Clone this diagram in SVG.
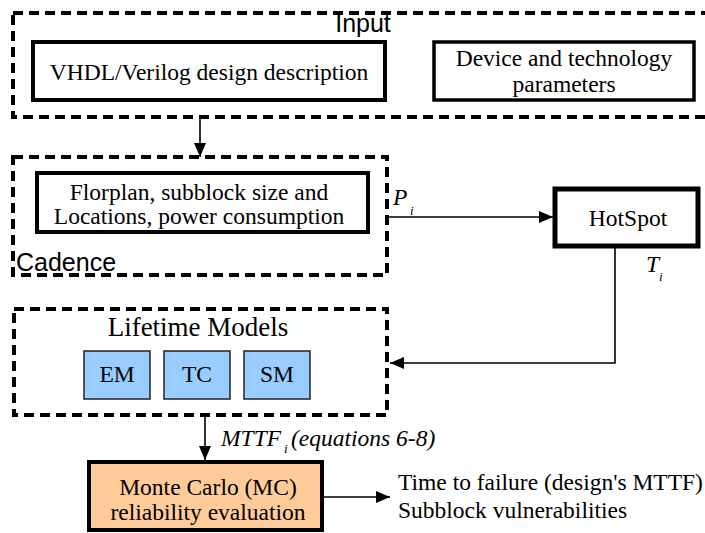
<svg xmlns="http://www.w3.org/2000/svg" width="705" height="533" viewBox="0 0 705 533">
<style>
.dash{fill:none;stroke:#000;stroke-width:4;stroke-dasharray:10 6}
.box{fill:#fff;stroke:#000;stroke-width:4}
.t{font-family:'Liberation Serif','Times New Roman',serif;font-size:23.5px;fill:#000;text-anchor:middle}
.s{font-family:'Liberation Sans',Arial,sans-serif;font-size:25px;fill:#000}
.it{font-family:'Liberation Serif','Times New Roman',serif;font-style:italic;font-size:23.5px;fill:#000}
.sub{font-size:13px}
.blue{fill:#99CCFF;stroke:#222;stroke-width:1.5}
.con{fill:none;stroke:#000;stroke-width:1.6}
</style>
<defs>
<marker id="ah" markerUnits="userSpaceOnUse" markerWidth="14" markerHeight="12" refX="14" refY="6" orient="auto">
<path d="M0,0 L14,6 L0,12 z" fill="#000"/>
</marker>
</defs>

<g id="input">
<rect class="dash" x="13" y="13" width="710" height="104"/>
<text class="s" x="363" y="32" text-anchor="middle">Input</text>
</g>
<g id="vhdl">
<rect class="box" x="33" y="42" width="352" height="58"/>
<text class="t" x="209" y="80">VHDL/Verilog design description</text>
</g>
<g id="device">
<rect class="box" x="434" y="42" width="260" height="58" style="stroke-width:3.5"/>
<text class="t" x="564" y="66">Device and technology</text>
<text class="t" x="564" y="92">parameters</text>
</g>

<g id="cadence">
<rect class="dash" x="13" y="157" width="374" height="118"/>
<text class="s" x="16" y="271">Cadence</text>
</g>
<g id="floorplan">
<rect class="box" x="37" y="173" width="331" height="59"/>
<text class="t" x="199" y="200">Florplan, subblock size and</text>
<text class="t" x="199" y="224">Locations, power consumption</text>
</g>

<g id="hotspot">
<rect class="box" x="555" y="189" width="143" height="57" style="stroke-width:5"/>
<text class="t" x="628" y="226">HotSpot</text>
</g>

<g id="lifetime">
<rect class="dash" x="14" y="309" width="373" height="106"/>
<text class="t" x="198" y="336" style="font-size:27px">Lifetime Models</text>
</g>
<g id="em">
<rect class="blue" x="84" y="351" width="66" height="48"/>
<text class="t" x="117" y="382">EM</text>
</g>
<g id="tc">
<rect class="blue" x="164" y="351" width="66" height="48"/>
<text class="t" x="197" y="382">TC</text>
</g>
<g id="sm">
<rect class="blue" x="244" y="351" width="66" height="48"/>
<text class="t" x="277" y="382">SM</text>
</g>

<g id="montecarlo">
<rect class="box" x="89" y="462" width="233" height="68" style="fill:#FFCC99"/>
<text class="t" x="208" y="495">Monte Carlo (MC)</text>
<text class="t" x="208" y="520">reliability evaluation</text>
</g>

<g id="outputs">
<text class="t" x="398" y="490" style="text-anchor:start">Time to failure (design's MTTF)</text>
<text class="t" x="398" y="518" style="text-anchor:start">Subblock vulnerabilities</text>
</g>

<g id="connectors">
<line class="con" x1="200" y1="117" x2="200" y2="157" marker-end="url(#ah)"/>
<line class="con" x1="387" y1="217" x2="553" y2="217" marker-end="url(#ah)"/>
<polyline class="con" points="615,248 615,363 390,363" marker-end="url(#ah)"/>
<line class="con" x1="205" y1="415" x2="205" y2="460" marker-end="url(#ah)"/>
<line class="con" x1="324" y1="497" x2="390" y2="497" marker-end="url(#ah)"/>
<text class="it" x="393" y="205">P</text>
<text class="it sub" x="410" y="215">i</text>
<text class="it" x="646" y="272">T</text>
<text class="it sub" x="659" y="281">i</text>
<text class="it" x="221" y="446">MTTF</text>
<text class="it sub" x="284" y="453">i</text>
<text class="it" x="291" y="446">(equations 6-8)</text>
</g>
</svg>
